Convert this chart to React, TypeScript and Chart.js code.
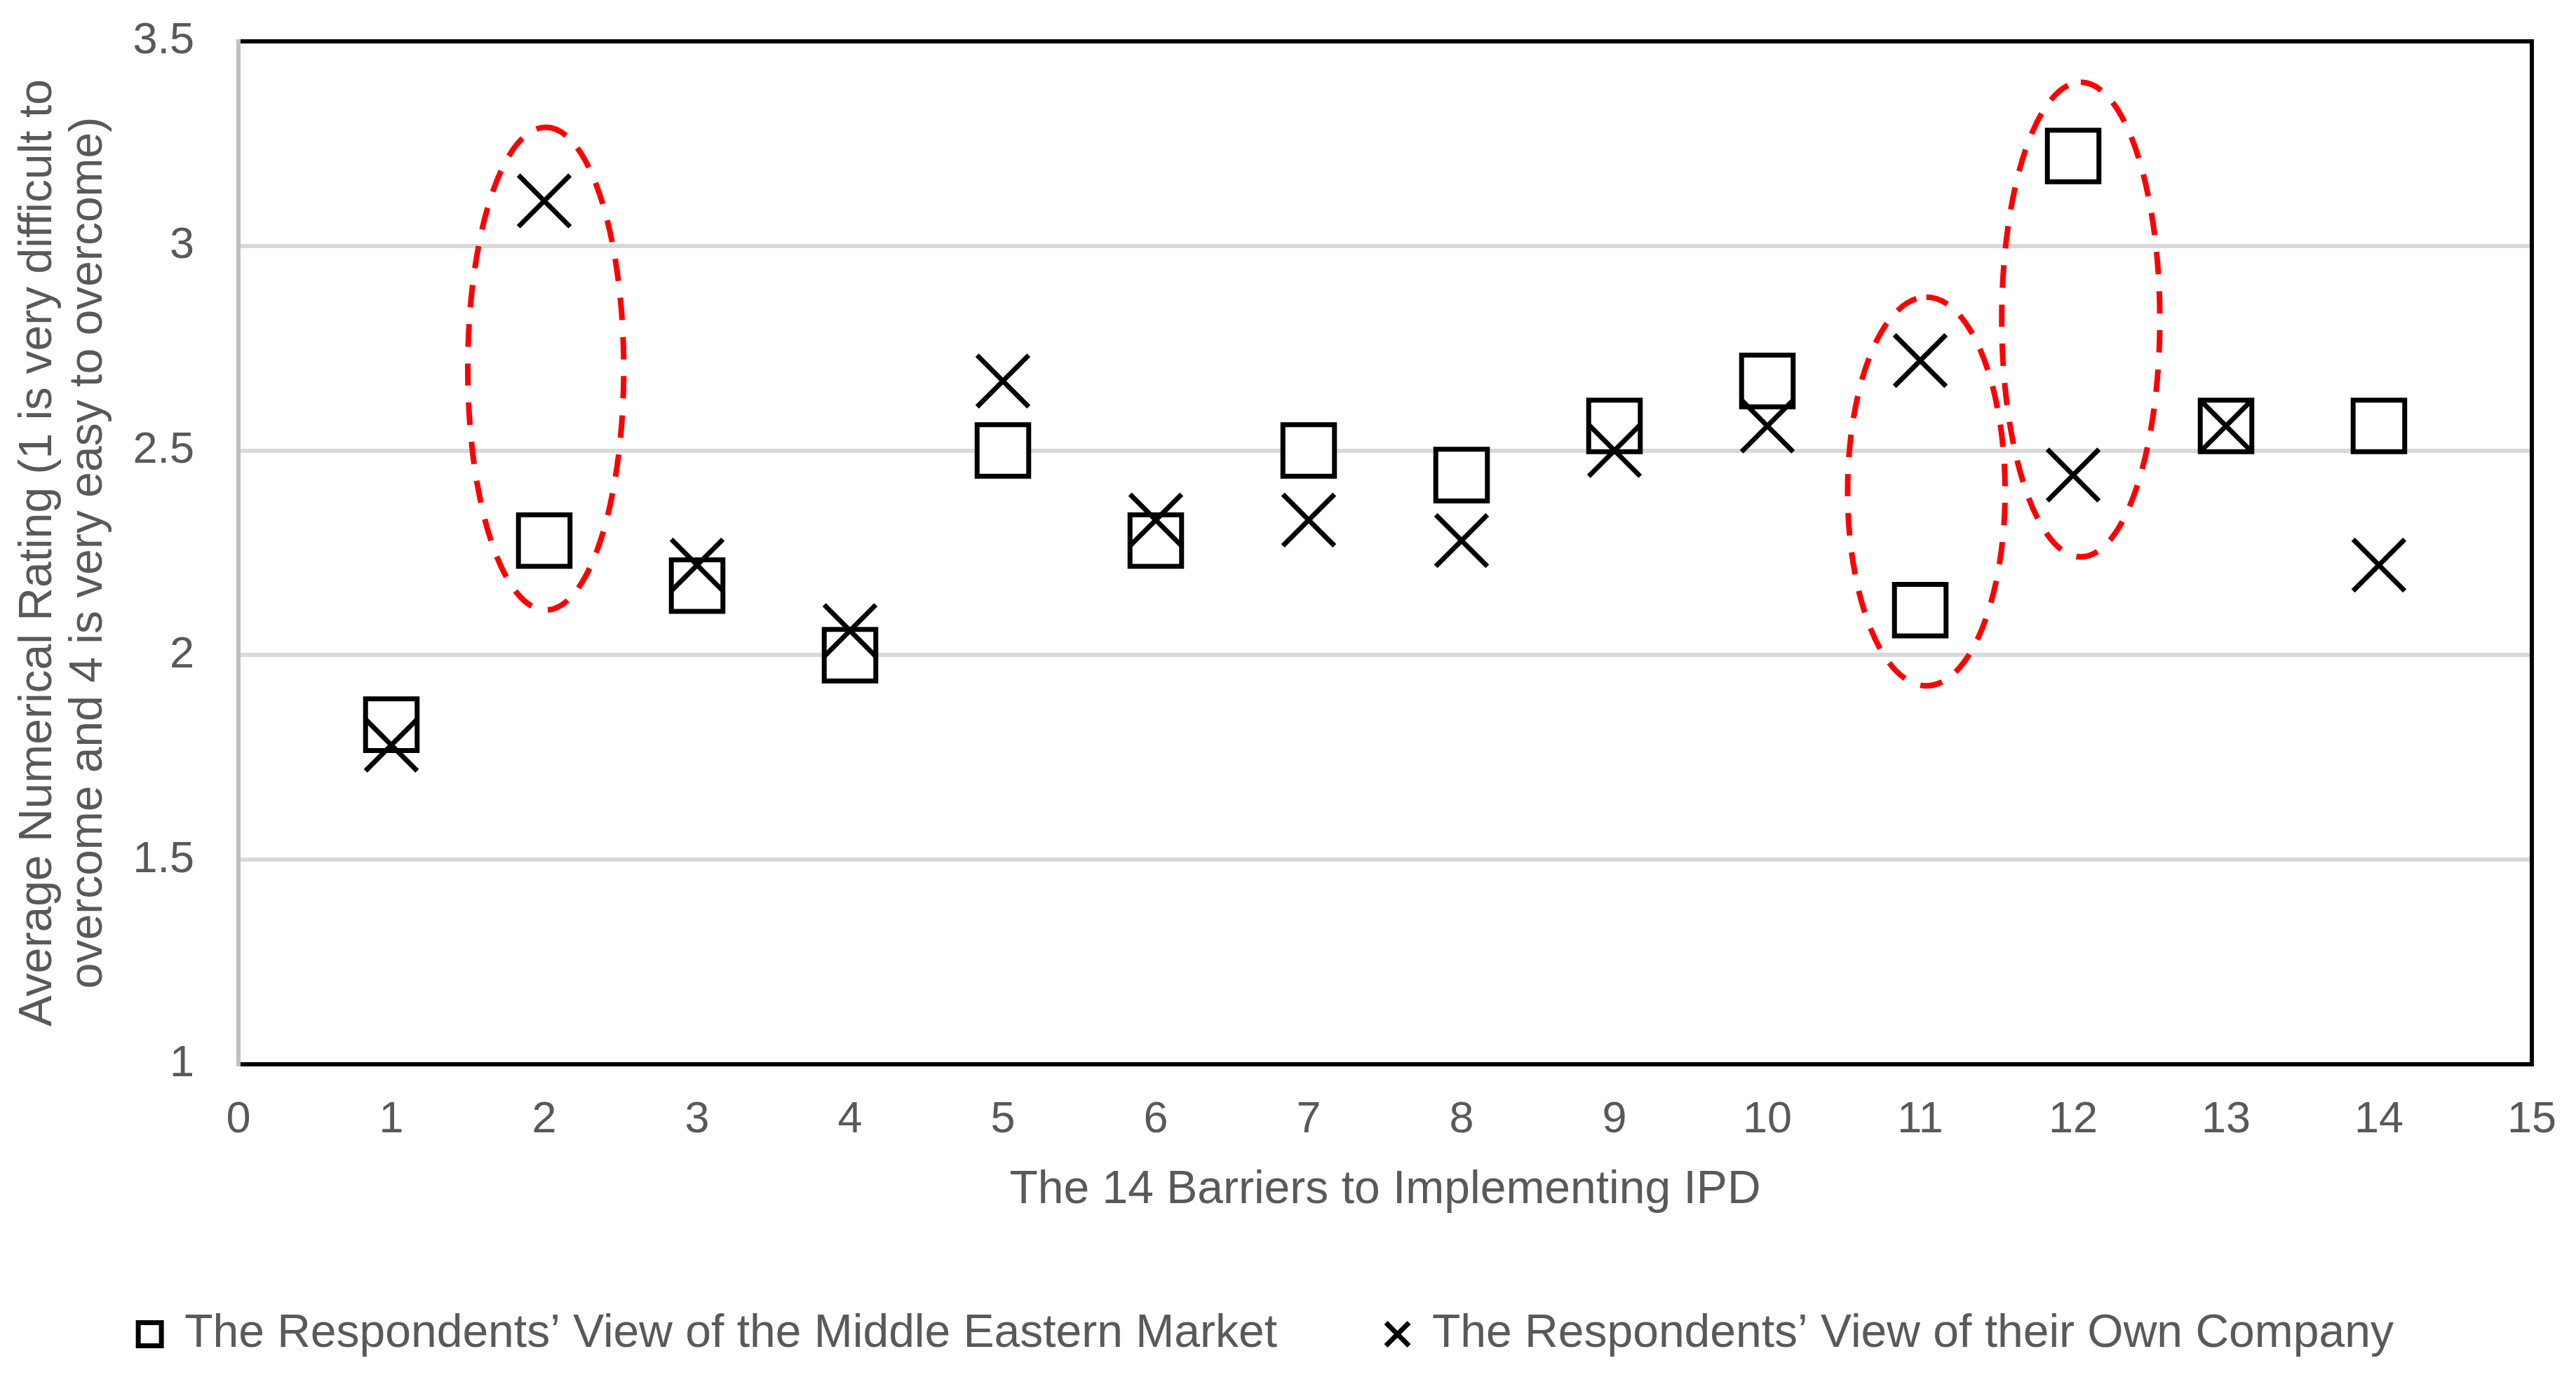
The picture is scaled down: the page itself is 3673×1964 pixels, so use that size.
import React, { useEffect, useRef } from 'react';
import { Chart, registerables } from 'chart.js';

Chart.register(...registerables);

// ---- data ----
const barriers = [1, 2, 3, 4, 5, 6, 7, 8, 9, 10, 11, 12, 13, 14];
const marketRatings = [1.83, 2.28, 2.17, 2.0, 2.5, 2.28, 2.5, 2.44, 2.56, 2.67, 2.11, 3.22, 2.56, 2.56];
const companyRatings = [1.78, 3.11, 2.22, 2.06, 2.67, 2.33, 2.33, 2.28, 2.5, 2.56, 2.72, 2.44, 2.56, 2.22];
const xTickValues = [0, 1, 2, 3, 4, 5, 6, 7, 8, 9, 10, 11, 12, 13, 14, 15];
const yTickValues = [1, 1.5, 2, 2.5, 3, 3.5];
const seriesNames = [
  'The Respondents\u2019 View of the Middle Eastern Market',
  'The Respondents\u2019 View of their Own Company',
];
const xAxisTitle = 'The 14 Barriers to Implementing IPD';
const yAxisTitle = [
  'Average Numerical Rating (1 is very difficult to',
  'overcome and 4 is very easy to overcome)',
];
// highlighted pairs (dashed ellipses), in data units
const highlightCenterX = [2.01, 11.04, 12.05];
const highlightCenterY = [2.7, 2.4, 2.82];
const highlightRadiusX = [0.51, 0.515, 0.517];
const highlightRadiusY = [0.59, 0.475, 0.58];

const FONT = '"Liberation Sans", Arial, sans-serif';
const TEXT = '#595959';

const framePlugin = {
  id: 'plotFrame',
  beforeDatasetsDraw(chart: any) {
    const { ctx, chartArea } = chart;
    const { left, right, top, bottom } = chartArea;
    ctx.save();
    ctx.lineWidth = 6;
    ctx.lineCap = 'square';
    ctx.strokeStyle = '#000000';
    ctx.beginPath();
    ctx.moveTo(left, top);
    ctx.lineTo(right, top);
    ctx.lineTo(right, bottom);
    ctx.lineTo(left, bottom);
    ctx.stroke();
    ctx.lineCap = 'butt';
    ctx.strokeStyle = '#BFBFBF';
    ctx.beginPath();
    ctx.moveTo(left, top - 3);
    ctx.lineTo(left, bottom + 3);
    ctx.stroke();
    ctx.restore();
  },
};

const ellipsePlugin = {
  id: 'highlightEllipses',
  afterDatasetsDraw(chart: any) {
    const { ctx, scales } = chart;
    const xs = scales.x;
    const ys = scales.y;
    ctx.save();
    ctx.strokeStyle = '#FF0000';
    ctx.lineWidth = 8;
    ctx.setLineDash([32, 24]);
    for (let i = 0; i < highlightCenterX.length; i++) {
      const cx = xs.getPixelForValue(highlightCenterX[i]);
      const cy = ys.getPixelForValue(highlightCenterY[i]);
      const rx = Math.abs(xs.getPixelForValue(highlightCenterX[i] + highlightRadiusX[i]) - cx);
      const ry = Math.abs(ys.getPixelForValue(highlightCenterY[i] + highlightRadiusY[i]) - cy);
      ctx.beginPath();
      ctx.ellipse(cx, cy, rx, ry, 0, -Math.PI / 2, Math.PI * 1.5);
      ctx.stroke();
    }
    ctx.restore();
  },
};

export default function App() {
  const canvasRef = useRef<HTMLCanvasElement | null>(null);

  useEffect(() => {
    const canvas = canvasRef.current;
    if (!canvas) return;
    const chart = new Chart(canvas, {
      type: 'scatter',
      data: {
        datasets: [
          {
            label: seriesNames[0],
            data: barriers.map((b, i) => ({ x: b, y: marketRatings[i] })),
            order: 2,
            showLine: false,
            pointStyle: 'rect',
            pointRadius: 52,
            pointHoverRadius: 52,
            pointBorderWidth: 7,
            pointBorderColor: '#000000',
            pointBackgroundColor: '#FFFFFF',
            borderColor: '#000000',
            backgroundColor: '#FFFFFF',
          },
          {
            label: seriesNames[1],
            data: barriers.map((b, i) => ({ x: b, y: companyRatings[i] })),
            order: 1,
            showLine: false,
            pointStyle: 'crossRot',
            pointRadius: 52,
            pointHoverRadius: 52,
            pointBorderWidth: 7,
            pointBorderColor: '#000000',
            pointBackgroundColor: '#000000',
            borderColor: '#000000',
            backgroundColor: '#000000',
          },
        ],
      },
      options: {
        animation: false,
        responsive: false,
        devicePixelRatio: 1,
        events: [],
        layout: { padding: { top: 52, right: 63, bottom: 18, left: 0 } },
        plugins: {
          legend: {
            position: 'bottom',
            labels: {
              usePointStyle: true,
              boxWidth: 33,
              boxHeight: 33,
              padding: 155,
              color: TEXT,
              font: { family: FONT, size: 66 },
              sort: (a: any, b: any) => a.datasetIndex - b.datasetIndex,
            },
          },
          tooltip: { enabled: false },
        },
        scales: {
          x: {
            type: 'linear',
            min: 0,
            max: 15,
            afterBuildTicks: (scale: any) => {
              scale.ticks = xTickValues.map((v) => ({ value: v }));
            },
            afterFit: (scale: any) => {
              scale.height = 197;
              scale.paddingLeft = 20;
              scale.paddingRight = 36;
            },
            grid: { display: false, drawTicks: false },
            border: { display: false },
            ticks: {
              color: TEXT,
              font: { family: FONT, size: 63 },
              padding: 42,
              autoSkip: false,
              maxRotation: 0,
              callback: (v: any) => String(v),
            },
            title: {
              display: true,
              text: xAxisTitle,
              color: TEXT,
              font: { family: FONT, size: 66, lineHeight: 1.1 },
              padding: { top: 26, bottom: -19 },
            },
          },
          y: {
            type: 'linear',
            min: 1,
            max: 3.5,
            afterBuildTicks: (scale: any) => {
              scale.ticks = yTickValues.map((v) => ({ value: v }));
            },
            afterFit: (scale: any) => {
              scale.width = 340;
              scale.paddingTop = 38;
              scale.paddingBottom = 38;
            },
            grid: { color: '#D9D9D9', lineWidth: 6, drawTicks: false },
            border: { display: false },
            ticks: {
              color: TEXT,
              font: { family: FONT, size: 63 },
              padding: 63,
              callback: (v: any) => String(v),
            },
            title: {
              display: true,
              text: yAxisTitle,
              color: TEXT,
              font: { family: FONT, size: 66, lineHeight: 1.1 },
              padding: { top: 18, bottom: 26 },
            },
          },
        },
      },
      plugins: [framePlugin, ellipsePlugin],
    } as any);
    return () => chart.destroy();
  }, []);

  return (
    <div style={{ position: 'absolute', left: 0, top: 0, width: 3673, height: 1964, background: '#FFFFFF' }}>
      <canvas ref={canvasRef} width={3673} height={1964} style={{ display: 'block' }} />
    </div>
  );
}
